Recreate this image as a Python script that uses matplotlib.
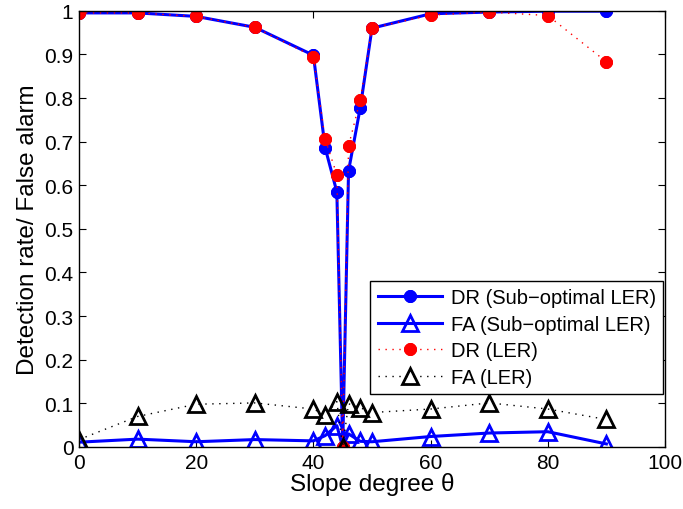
import matplotlib
matplotlib.use('Agg')
import matplotlib.pyplot as plt

plt.rcParams['font.family'] = ['Liberation Sans', 'DejaVu Sans']

theta = [0, 10, 20, 30, 40, 42, 44, 45, 46, 48, 50, 60, 70, 80, 90]

dr_sub = [0.995, 0.995, 0.987, 0.962, 0.898, 0.686, 0.585, 0.0, 0.633, 0.778, 0.960, 0.993, 0.997, 0.999, 0.999]
fa_sub = [0.011, 0.018, 0.012, 0.017, 0.014, 0.026, 0.049, 0.0, 0.030, 0.013, 0.012, 0.024, 0.032, 0.035, 0.007]
dr_ler = [0.995, 0.995, 0.987, 0.962, 0.895, 0.706, 0.624, 0.0, 0.690, 0.796, 0.960, 0.990, 0.997, 0.989, 0.883]
fa_ler = [0.017, 0.070, 0.098, 0.101, 0.087, 0.073, 0.104, 0.0, 0.099, 0.090, 0.079, 0.087, 0.101, 0.087, 0.063]

fig = plt.figure(figsize=(6.83, 5.10), dpi=100)
ax = fig.add_axes([0.1157, 0.1216, 0.8579, 0.8554])

asterisk = (8, 2, 0)
ax.plot(theta, dr_sub, '-', color='blue', lw=2.2, marker=asterisk, ms=9, mew=3,
        label='DR (Sub\u2212optimal LER)')
ax.plot(theta, fa_sub, '-', color='blue', lw=2.2, marker='^', ms=11, mew=2,
        mfc='none', label='FA (Sub\u2212optimal LER)')
ax.plot(theta, dr_ler, color='red', lw=1, ls=(0, (1, 4)), marker=asterisk, ms=9, mew=3,
        label='DR (LER)')
ax.plot(theta, fa_ler, color='black', lw=1, ls=(0, (1, 4)), marker='^', ms=11, mew=2,
        mfc='none', label='FA (LER)')

ax.set_xlim(0, 100)
ax.set_ylim(0, 1)
ax.set_xticks([0, 20, 40, 60, 80, 100])
ax.set_yticks([i / 10 for i in range(11)])
ax.set_yticklabels(['0', '0.1', '0.2', '0.3', '0.4', '0.5', '0.6', '0.7', '0.8', '0.9', '1'])
ax.tick_params(direction='in', top=True, right=True, labelsize=15, length=5, pad=4)
for s in ax.spines.values():
    s.set_linewidth(1)

ax.set_xlabel('Slope degree \u03b8', fontsize=17.5, labelpad=0)
ax.set_ylabel('Detection rate/ False alarm', fontsize=17.5, labelpad=4)

leg = ax.legend(loc='lower right', bbox_to_anchor=(0.997, 0.121), borderaxespad=0,
                fontsize=14.5, fancybox=False, framealpha=1, edgecolor='black',
                handlelength=3.2, labelspacing=0.38, borderpad=0.35, handletextpad=0.45)
leg.get_frame().set_linewidth(1)

fig.savefig('out.png', dpi=100)
